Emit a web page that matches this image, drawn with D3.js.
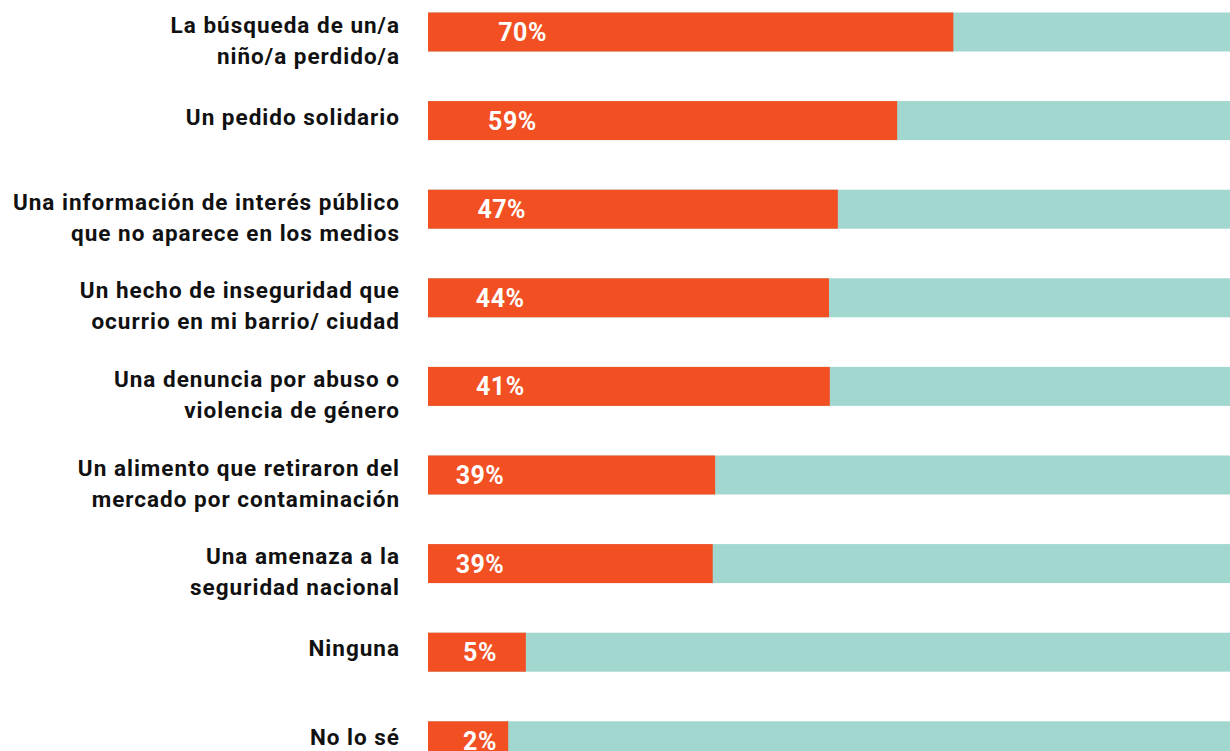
<!DOCTYPE html>
<html>
<head>
<meta charset="utf-8">
<script src="https://cdn.jsdelivr.net/npm/d3@7"></script>
<style>
  body { margin: 0; background: #fff; }
  svg { display: block; font-family: Roboto, "Noto Sans", sans-serif; }
</style>
</head>
<body>
<svg id="bars" width="1230" height="751"></svg>
<script>
// categories, one entry per line of the label
const categories = [
  ["La búsqueda de un/a", "niño/a perdido/a"],
  ["Un pedido solidario"],
  ["Una información de interés público", "que no aparece en los medios"],
  ["Un hecho de inseguridad que", "ocurrio en mi barrio/ ciudad"],
  ["Una denuncia por abuso o", "violencia de género"],
  ["Un alimento que retiraron del", "mercado por contaminación"],
  ["Una amenaza a la", "seguridad nacional"],
  ["Ninguna"],
  ["No lo sé"]
];
// printed percentages
const pcts = [70, 59, 47, 44, 41, 39, 39, 5, 2];
// drawn bar length (% of track)
const bars = [65.5, 58.5, 51.1, 50.0, 50.1, 35.8, 35.5, 12.2, 10.0];

const orange = "#f24f23", teal = "#a1d7ce";

const svg = d3.select("svg#bars");
const rows = d3.range(categories.length);

const x = d3.scaleLinear().domain([0, 100]).range([428, 1230]);
const y = d3.scaleBand().domain(rows).range([12.5, 12.5 + 88.6 * (rows.length - 0.56)])
    .paddingInner(0.56).paddingOuter(0);
const bw = y.bandwidth();

const g = svg.selectAll("g.row")
    .data(rows)
    .enter().append("g")
    .attr("class", "row");

// track
g.append("rect")
    .attr("x", x(0))
    .attr("y", i => y(i))
    .attr("width", x(100) - x(0))
    .attr("height", bw)
    .attr("fill", teal);

// value bar
g.append("rect")
    .attr("x", x(0))
    .attr("y", i => y(i))
    .attr("width", i => x(bars[i]) - x(0))
    .attr("height", bw)
    .attr("fill", orange);

// percentage inside bar
g.append("text")
    .attr("x", i => {
      const len = x(bars[i]) - x(0);
      return x(0) + Math.max(52, len * 0.18);
    })
    .attr("y", i => y(i) + bw / 2)
    .attr("dy", "0.36em")
    .attr("text-anchor", "middle")
    .attr("fill", "#fff")
    .style("font-size", "25px")
    .style("font-weight", 700)
    .style("letter-spacing", "0.5px")
    .text(i => pcts[i] + "%");

// category labels (two-line labels sit a bit low, single lines a bit high)
const lineH = 31;
g.append("text")
    .attr("text-anchor", "end")
    .attr("fill", "#111")
    .style("font-size", "22.5px")
    .style("font-weight", 700)
    .style("letter-spacing", "1px")
    .each(function(i) {
      const lines = categories[i];
      const shift = lines.length > 1 ? 8 : -4;
      const top = y(i) + bw / 2 + shift - (lines.length - 1) * lineH / 2;
      d3.select(this).selectAll("tspan")
        .data(lines)
        .enter().append("tspan")
        .attr("x", 400)
        .attr("y", (d, k) => top + k * lineH)
        .attr("dy", "0.36em")
        .text(d => d);
    });
</script>
</body>
</html>
